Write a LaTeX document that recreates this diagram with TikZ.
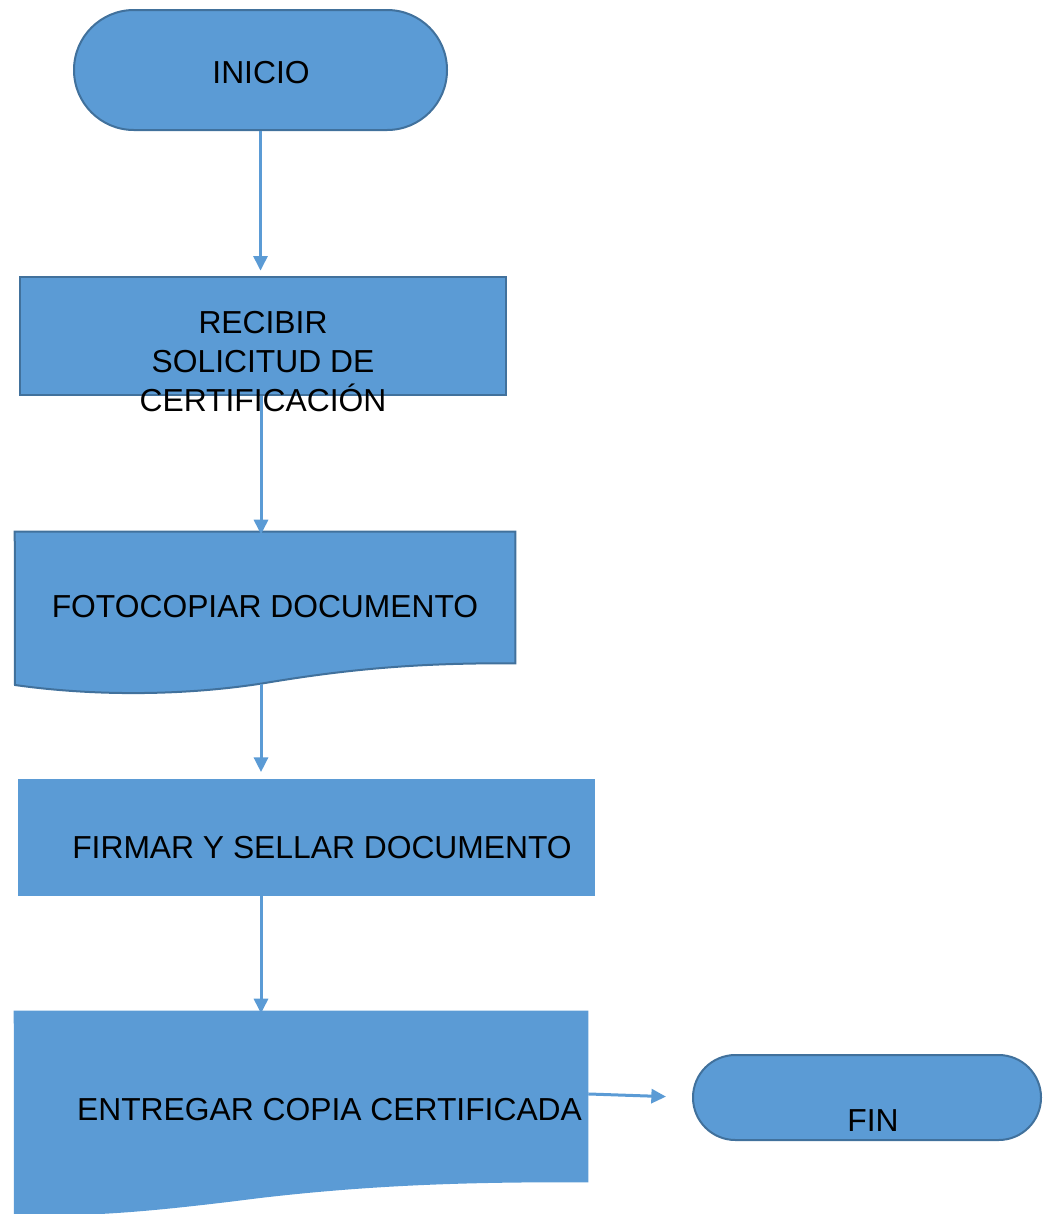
\documentclass[tikz,border=0pt]{standalone}
\usepackage{fontspec}
\setmainfont{Liberation Sans}
\usetikzlibrary{arrows.meta}
\definecolor{boxfill}{HTML}{5B9BD5}
\definecolor{boxline}{HTML}{41719C}
\begin{document}
\begin{tikzpicture}[x=0.75pt,y=-0.75pt,
  lbl/.style={font=\fontsize{23.85}{29.25}\selectfont, inner sep=0pt, align=center, text=black},
  term/.style={fill=boxfill, draw=boxline, line width=1.5pt, rounded corners=#1, inner sep=0pt},
  proc/.style={fill=boxfill, inner sep=0pt},
  flow/.style={draw=boxfill, line width=2.25pt, -{Triangle[length=11pt,width=10.5pt]}}
]
\useasboundingbox (0,0) rectangle (1044,1214);

% flow axis
\coordinate (axis) at (261,0);

% terminals and process boxes
\node[term=44.9pt, minimum width=279.75pt, minimum height=90pt] (inicio) at (260.5,70) {};
\node[proc, draw=boxline, line width=1.5pt, minimum width=364.5pt, minimum height=88.5pt] (recibir) at (263,336) {};
\node[proc, minimum width=432.75pt, minimum height=87.75pt] (firmar) at (306.5,837.5) {};
\node[term=31.8pt, minimum width=261pt, minimum height=63.75pt] (fin) at (867,1097.5) {};

% document shapes (rectangular part as node, wavy bottom drawn below)
\node[inner sep=0pt, minimum width=375pt, minimum height=98.25pt] (foto) at (265,597.5) {};
\path[fill=boxfill, draw=boxline, line width=1.5pt]
  (foto.north west) -- (foto.north east) -- (foto.south east)
  .. controls (430,663) and (360,667) .. (265,683)
  .. controls (190,695) and (100,697) .. (15,685) -- cycle;
\coordinate (foto-out) at (261,684);

\node[inner sep=0pt, minimum width=430.5pt, minimum height=128.25pt] (entregar) at (301,1096.5) {};
\path[fill=boxfill]
  (entregar.north west) -- (entregar.north east) -- (entregar.south east)
  .. controls (480,1182) and (380,1184) .. (260,1198)
  .. controls (150,1212) and (80,1218) .. (14,1214) -- cycle;

% connectors
\draw[flow, shorten >=4pt] (inicio.south) -- (inicio.south |- recibir.north);
\draw[flow, shorten >=-2pt] (recibir.south -| axis) -- (axis |- foto.north);
\draw[flow, shorten >=5pt] (foto-out) -- (axis |- firmar.north);
\draw[flow, shorten >=-2pt] (firmar.south -| axis) -- (axis |- entregar.north);
\draw[flow, shorten >=19.5pt] ([yshift=1.9pt]entregar.east) -- (fin.west);

% labels
\node[lbl] (t-inicio) at (261,73) {INICIO};
\node[lbl] (t-recibir) at (263,362) {RECIBIR\\SOLICITUD DE\\CERTIFICACIÓN};
\node[lbl] (t-foto) at (265,607) {FOTOCOPIAR DOCUMENTO};
\node[lbl] (t-firmar) at (322,848) {FIRMAR Y SELLAR DOCUMENTO};
\node[lbl] (t-entregar) at (329.5,1110) {ENTREGAR COPIA CERTIFICADA};
\node[lbl] (t-fin) at (873,1121) {FIN};
\end{tikzpicture}
\end{document}
